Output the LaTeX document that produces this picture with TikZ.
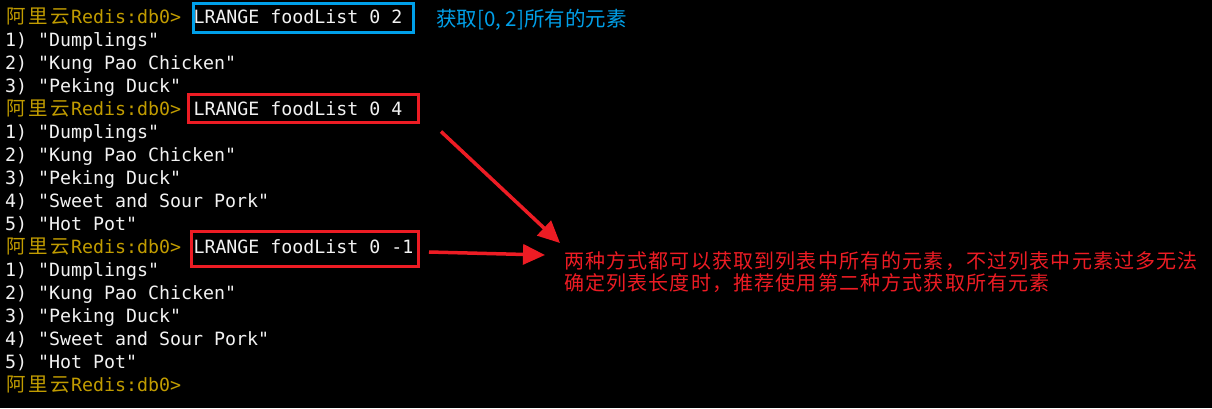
\documentclass[tikz,border=0pt]{standalone}
\usepackage{fontspec}
\usetikzlibrary{arrows.meta, positioning}
\newfontfamily\monofont[Ligatures=TeXOff]{DejaVu Sans Mono}
\newfontfamily\cjkfont{Noto Sans CJK SC}
\newfontfamily\notefont[LetterSpace=5.8]{Noto Sans CJK SC}
\definecolor{promptgold}{RGB}{193,156,0}
\definecolor{termwhite}{RGB}{242,242,242}
\definecolor{markblue}{RGB}{0,160,233}
\definecolor{markred}{RGB}{237,28,36}
\newcommand{\cjkcell}[1]{\makebox[22pt]{\cjkfont\fontsize{19.5pt}{23pt}\selectfont #1}}
\newcommand{\prompttext}{\cjkcell{阿}\cjkcell{里}\cjkcell{云}Redis:db0>}

\begin{document}
\begin{tikzpicture}[
        x=1pt, y=-1pt,
        term/.style={
            font=\monofont\fontsize{18.27pt}{23pt}\selectfont,
            text=termwhite,
            inner sep=0pt,
            anchor=base west
        },
        prompt/.style={term, text=promptgold},
        cmd/.style={term, line width=3pt},
        note/.style={
            font=\notefont\fontsize{20pt}{22pt}\selectfont,
            text=markred,
            inner sep=0pt,
            anchor=base west
        },
        pointer/.style={draw=markred, line width=3.5pt, -{Triangle[length=22pt,width=20pt]}}
    ]
        % 终端背景
        \path[use as bounding box, fill=black] (0,0) rectangle (1212,408);

        % 第一条命令 0 2
        \node[prompt] (p1) at (5,23) {\prompttext};
        \node[cmd, draw=markblue, text height=19.5pt, text depth=9.5pt] (c1) at (192,23) {\makebox[219.5pt][l]{LRANGE foodList 0 2}};
        \node[term] (r2) at (5,46) {1) "Dumplings"};
        \node[term] (r3) at (5,69) {2) "Kung Pao Chicken"};
        \node[term] (r4) at (5,92) {3) "Peking Duck"};

        % 第二条命令 0 4
        \node[prompt] (p2) at (5,115) {\prompttext};
        \node[cmd, draw=markred, inner xsep=5.5pt, text height=20.5pt, text depth=7.5pt] (c2) at (186.5,115) {\makebox[219pt][l]{LRANGE foodList 0 4}};
        \node[term] (r6) at (5,138) {1) "Dumplings"};
        \node[term] (r7) at (5,161) {2) "Kung Pao Chicken"};
        \node[term] (r8) at (5,184) {3) "Peking Duck"};
        \node[term] (r9) at (5,207) {4) "Sweet and Sour Pork"};
        \node[term] (r10) at (5,230) {5) "Hot Pot"};

        % 第三条命令 0 -1
        \node[prompt] (p3) at (5,253) {\prompttext};
        \node[cmd, draw=markred, inner xsep=2.5pt, text height=21.5pt, text depth=13.5pt] (c3) at (189.5,253) {\makebox[222pt][l]{LRANGE foodList 0 -1}};
        \node[term] (r12) at (5,276) {1) "Dumplings"};
        \node[term] (r13) at (5,299) {2) "Kung Pao Chicken"};
        \node[term] (r14) at (5,322) {3) "Peking Duck"};
        \node[term] (r15) at (5,345) {4) "Sweet and Sour Pork"};
        \node[term] (r16) at (5,368) {5) "Hot Pot"};
        \node[prompt] (p4) at (5,391) {\prompttext};

        % 注释
        \node[anchor=base west, inner sep=0pt, text=markblue, font=\cjkfont\fontsize{20.5pt}{22pt}\selectfont] (tip) at (436,26.5) {获取[0, 2]所有的元素};
        \node[note] (note1) at (564,268.5) {两种方式都可以获取到列表中所有的元素，不过列表中元素过多无法};
        \node[note] (note2) at (564,290) {确定列表长度时，推荐使用第二种方式获取所有元素};

        % 箭头
        \draw[pointer] ([shift={(21.5,7.5)}]c2.south east) -- ([shift={(-4,-25.5)}]note1.base west);
        \draw[pointer] ([shift={(9.5,3)}]c3.east) -- ([shift={(-19,-13.5)}]note1.base west);
    \end{tikzpicture}
\end{document}
